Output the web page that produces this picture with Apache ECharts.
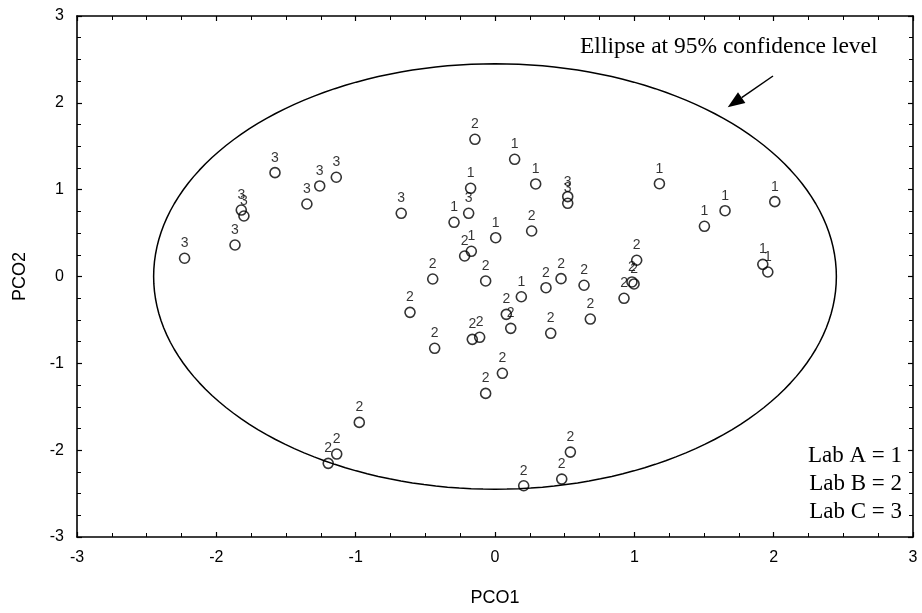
<!DOCTYPE html>
<html>
<head>
<meta charset="utf-8">
<script src="https://cdn.jsdelivr.net/npm/echarts@6/dist/echarts.min.js"></script>
<style>html,body{margin:0;padding:0;background:#fff;}#c{width:922px;height:613px;}</style>
</head>
<body>
<div id="c"></div>
<script>
// Lab A = 1
var labA = [[0.141,1.35],[0.292,1.066],[-0.175,1.016],[-0.294,0.624],[0.005,0.447],[-0.17,0.29],[0.189,-0.233],[1.18,1.069],[1.651,0.758],[1.503,0.578],[2.008,0.862],[1.922,0.14],[1.958,0.052]];
// Lab B = 2
var labB = [[-0.144,1.58],[0.263,0.524],[-0.218,0.236],[-0.447,-0.029],[-0.067,-0.052],[0.366,-0.129],[0.474,-0.025],[0.639,-0.101],[0.684,-0.49],[0.4,-0.654],[-0.61,-0.413],[-0.433,-0.827],[-0.163,-0.724],[-0.11,-0.70],[0.081,-0.436],[0.113,-0.597],[0.053,-1.115],[-0.067,-1.346],[-0.974,-1.68],[-1.136,-2.045],[-1.197,-2.152],[0.206,-2.41],[0.479,-2.333],[0.541,-2.022],[1.017,0.187],[0.983,-0.063],[0.998,-0.086],[0.926,-0.251]];
// Lab C = 3
var labC = [[-2.228,0.21],[-1.866,0.363],[-1.821,0.765],[-1.802,0.697],[-1.579,1.196],[-1.35,0.835],[-1.258,1.043],[-1.139,1.143],[-0.673,0.728],[-0.189,0.728],[0.522,0.92],[0.522,0.843]];
// 95% confidence ellipse parameters
var ellipseCenter = [0, 0];
var ellipseRadii = [2.45, 2.45];
var axisMin = -3, axisMax = 3, axisInterval = 1;
var legendLines = ['Lab A = 1', 'Lab B = 2', 'Lab C = 3'];
var annotationText = 'Ellipse at 95% confidence level';

var ellipsePts = [];
for (var i = 0; i <= 360; i += 2) {
  var t = i * Math.PI / 180;
  ellipsePts.push([ellipseCenter[0] + ellipseRadii[0] * Math.cos(t), ellipseCenter[1] + ellipseRadii[1] * Math.sin(t)]);
}

var sansFont = '"Liberation Sans", Arial, sans-serif';
var serifFont = '"Liberation Serif", "Times New Roman", serif';

function axisCommon(pos, showLabel) {
  return {
    type: 'value', position: pos, min: axisMin, max: axisMax, interval: axisInterval,
    axisLine: {show: true, onZero: false, lineStyle: {color: '#000', width: 1.6}},
    axisTick: {show: true, inside: true, length: 5, lineStyle: {color: '#000', width: 1.2}},
    minorTick: {show: true, splitNumber: 4, length: 4, lineStyle: {color: '#000', width: 1}},
    splitLine: {show: false},
    axisLabel: {show: showLabel, color: '#000', fontSize: 16, fontFamily: sansFont, margin: 13}
  };
}

function scatterSeries(name, data, tag) {
  return {
    name: name, type: 'scatter', data: data, symbol: 'circle', symbolSize: 10,
    itemStyle: {color: 'rgba(0,0,0,0)', borderColor: '#000', borderWidth: 1.6},
    label: {show: true, position: 'top', distance: 2, formatter: tag, color: '#000', fontSize: 14, fontFamily: sansFont},
    z: 3
  };
}

var xa = axisCommon('bottom', true);
xa.name = 'PCO1'; xa.nameLocation = 'middle'; xa.nameGap = 52;
xa.nameTextStyle = {color: '#000', fontSize: 18, fontFamily: sansFont};
var ya = axisCommon('left', true);
ya.name = 'PCO2'; ya.nameLocation = 'middle'; ya.nameGap = 48;
ya.nameTextStyle = {color: '#000', fontSize: 18, fontFamily: sansFont};
var xTop = axisCommon('top', false);
var yRight = axisCommon('right', false);

// arrow geometry (pixel space annotation)
var tail = [773, 76], tip = [727.7, 107.3];
var dx = tip[0] - tail[0], dy = tip[1] - tail[1], L = Math.sqrt(dx*dx + dy*dy);
var ux = dx / L, uy = dy / L, nx = -uy, ny = ux;
var headLen = 17, headHalf = 6.5;
var bx = tip[0] - headLen * ux, by = tip[1] - headLen * uy;

var chart = echarts.init(document.getElementById('c'), null, {renderer: 'canvas'});
chart.setOption({
  animation: false,
  backgroundColor: '#fff',
  grid: {left: 77, top: 16, right: 9, bottom: 76, containLabel: false},
  xAxis: [xa, xTop],
  yAxis: [ya, yRight],
  series: [
    {type: 'line', data: ellipsePts, showSymbol: false, smooth: false,
     lineStyle: {color: '#000', width: 1.5}, silent: true, z: 2},
    scatterSeries('Lab A', labA, '1'),
    scatterSeries('Lab B', labB, '2'),
    scatterSeries('Lab C', labC, '3')
  ],
  graphic: [
    {type: 'text', left: 580, top: 35, style: {text: annotationText, fill: '#000', font: '23.5px ' + serifFont}},
    {type: 'line', shape: {x1: tail[0], y1: tail[1], x2: bx, y2: by}, style: {stroke: '#000', lineWidth: 1.5}},
    {type: 'polygon', shape: {points: [[tip[0], tip[1]], [bx + nx*headHalf, by + ny*headHalf], [bx - nx*headHalf, by - ny*headHalf]]}, style: {fill: '#000'}},
    {type: 'text', right: 20, top: 444, style: {text: legendLines[0], fill: '#000', font: '23px ' + serifFont, align: 'right'}},
    {type: 'text', right: 20, top: 472, style: {text: legendLines[1], fill: '#000', font: '23px ' + serifFont, align: 'right'}},
    {type: 'text', right: 20, top: 500, style: {text: legendLines[2], fill: '#000', font: '23px ' + serifFont, align: 'right'}}
  ]
});
</script>
</body>
</html>
